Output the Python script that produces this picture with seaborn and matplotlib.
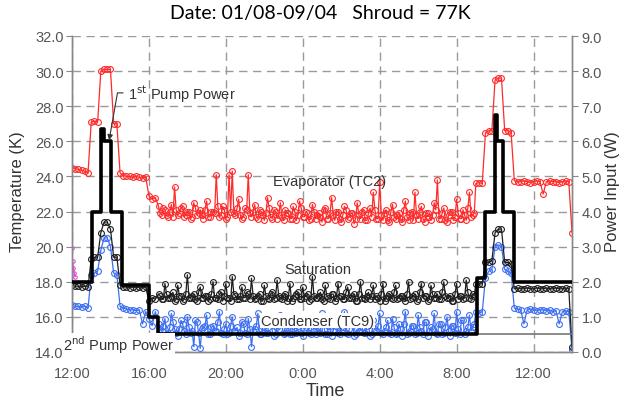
import numpy as np
import pandas as pd
import matplotlib
matplotlib.use("Agg")
import matplotlib.pyplot as plt
import seaborn as sns

# ---------------- data ----------------
# Three sampling segments (hours since midnight of day 1):
#   day 1: 12:00-16:20 every 10 min, night: 16:30-8:55 every 5 min, day 2: 9:00-14:00 every 10 min
day1_start_h, day1_n = 12.0, 27
night_start_h, night_n = 16.5, 198
day2_start_h, day2_n = 33.0, 31

evap_day1 = [24.5, 24.45, 24.4, 24.35, 24.3, 24.2,
             27.1, 27.15, 27.1,
             30.0, 30.1, 30.1, 30.1,
             27.0, 27.0,
             24.2, 24.05, 24.0, 24.0, 23.95, 24.0, 23.95, 23.9, 23.95,
             22.9, 22.7, 22.8]
evap_night_a = [22.3, 21.8, 22.1, 21.7, 22.4, 23.4, 21.8, 22.2, 21.7, 22.0,
                21.6, 22.5, 21.8, 22.1, 21.6, 22.6, 21.7, 22.0, 24.1, 21.7,
                22.3, 21.6, 24.1, 24.3, 21.8, 22.7, 21.6, 22.2, 24.1, 21.7,
                22.4, 21.6, 22.0, 21.5, 22.8, 21.7, 22.1, 21.6, 22.5, 21.5,
                21.9, 21.6, 22.3, 21.5, 22.6, 21.7, 22.0, 21.5, 22.4, 21.6,
                21.9, 21.4, 22.2, 21.6, 22.8, 21.5, 22.0, 21.4, 22.3, 21.6,
                21.9, 21.3, 22.5, 21.6, 22.1, 21.5, 22.2, 23.1, 21.6, 23.7,
                21.5, 22.1, 21.4, 22.4, 21.6, 21.9, 21.4, 22.6, 21.5, 22.0,
                23.1, 21.6, 22.3, 21.4, 21.9, 21.5, 22.5, 23.8, 21.6, 22.2,
                21.4, 22.0, 21.5, 22.7, 21.6, 22.1, 21.5, 23.1, 21.8]
evap_night_b = [21.9, 22.2, 21.8, 22.0, 21.7, 22.1, 21.9, 22.3, 21.8, 22.0,
                21.7, 22.2, 21.9, 21.8, 22.1, 21.7, 22.0, 21.9, 22.3, 21.8,
                22.1, 21.7, 22.0, 21.9, 22.2, 21.8, 21.7, 22.1, 21.9, 22.0,
                21.7, 22.1, 21.8, 21.9, 22.2, 21.6, 22.0, 21.8, 21.7, 22.1,
                21.9, 21.6, 22.0, 21.8, 22.2, 21.7, 21.9, 21.6, 22.0, 21.8,
                21.7, 22.1, 21.6, 21.9, 21.8, 22.0, 21.6, 21.8, 22.1, 21.7,
                21.9, 21.6, 21.8, 22.0, 21.5, 21.9, 21.7, 22.1, 21.6, 21.8,
                21.9, 21.5, 22.0, 21.7, 21.8, 21.6, 22.1, 21.7, 21.9, 21.5,
                21.8, 22.0, 21.6, 21.9, 21.7, 21.8, 22.1, 21.6, 21.9, 21.5,
                21.8, 22.0, 21.7, 21.9, 21.6, 21.8, 22.2, 21.7, 21.9]
evap_day2 = [23.6, 23.65, 23.6,
             26.5, 26.6, 26.6,
             29.5, 29.6, 29.6,
             26.6, 26.6, 26.5,
             23.75, 23.7, 23.7, 23.75, 23.7, 23.65, 23.7, 23.75, 23.7,
             23.0, 23.7, 23.75, 23.7, 23.7, 23.65, 23.7, 23.75, 23.7,
             20.8]

cond_day1 = [16.65, 16.6, 16.6, 16.55, 16.6, 16.5,
             18.4, 18.5, 18.6,
             19.8, 20.5, 20.5, 20.0,
             18.5, 18.4,
             16.6, 16.5, 16.45, 16.4, 16.4, 16.35, 16.4, 15.6, 16.3,
             15.9, 15.5, 16.3]
cond_night_a = [15.6, 15.2, 15.9, 15.1, 16.2, 15.3, 14.9, 15.8, 15.2, 16.0,
                15.1, 14.3, 15.7, 14.2, 15.4, 16.1, 15.0, 15.5, 15.2, 16.3,
                15.0, 15.6, 15.1, 16.0, 15.2, 14.9, 15.7, 15.1, 15.9, 14.3,
                15.3, 16.2, 15.0, 15.5, 15.1, 15.8, 14.9, 15.4, 16.1, 15.0,
                15.3, 15.0, 15.7, 15.1, 16.0, 14.9, 15.4, 15.1, 15.8, 15.0,
                15.3, 16.2, 15.0, 15.5, 14.9, 15.7, 15.1, 15.4, 16.3, 15.0,
                15.6, 14.9, 15.3, 16.0, 15.1, 15.5, 14.9, 15.8, 15.2, 16.2,
                15.0, 15.4, 15.1, 15.9, 15.0, 15.6, 14.9, 16.3, 15.1, 15.5,
                15.0, 16.1, 15.2, 15.7, 14.9, 15.4, 16.2, 15.0, 15.6, 15.1,
                16.0, 14.9, 15.5, 16.3, 15.0, 15.8, 15.2, 16.1, 15.4]
cond_night_b = [15.3, 15.5, 15.0, 15.4, 15.7, 15.1, 15.3, 15.6, 15.0, 15.4,
                15.2, 15.8, 15.1, 15.3, 15.5, 15.0, 15.4, 15.2, 15.7, 15.1,
                15.3, 15.0, 15.5, 15.2, 15.4, 15.1, 15.6, 15.0, 15.3, 15.2,
                15.5, 15.0, 15.4, 15.1, 15.7, 15.2, 15.0, 15.3, 15.6, 15.1,
                15.4, 15.0, 15.2, 15.5, 15.1, 15.3, 15.8, 15.0, 15.2, 15.4,
                15.1, 15.6, 15.0, 15.3, 15.2, 15.5, 15.0, 15.4, 15.1, 15.3,
                15.7, 15.0, 15.2, 15.4, 15.1, 15.6, 15.0, 15.3, 15.5, 15.1,
                15.2, 15.8, 15.0, 15.4, 15.1, 15.3, 15.6, 15.0, 15.2, 15.5,
                15.1, 15.4, 15.0, 15.7, 15.2, 15.3, 15.1, 15.6, 15.0, 15.4,
                15.2, 15.5, 15.1, 15.3, 15.8, 15.0, 15.4, 15.2, 15.6]
cond_day2 = [16.3, 16.2, 16.3,
             18.2, 18.6, 18.7,
             20.0, 20.1, 20.0,
             18.7, 18.6, 18.5,
             16.5, 16.45, 16.4, 15.6, 16.4, 16.45, 16.4, 16.35, 16.4,
             16.4, 16.35, 16.4, 16.3, 16.35, 15.6, 16.3, 16.35, 16.3,
             14.1]

sat_day1 = [17.8, 17.75, 17.75, 17.7, 17.75, 17.7,
            19.3, 19.4, 19.4,
            20.8, 21.4, 21.4, 21.0,
            19.4, 19.4,
            17.8, 17.7, 17.7, 17.65, 17.7, 17.65, 17.7, 17.65, 17.7,
            16.9, 17.1, 17.0]
sat_night_a = [17.3, 17.0, 17.9, 17.1, 17.2, 16.9, 17.8, 17.2, 17.0, 18.4,
               17.1, 17.3, 16.9, 17.7, 17.1, 17.2, 17.0, 18.0, 17.1, 17.3,
               16.9, 17.9, 17.1, 18.3, 17.2, 17.0, 17.7, 17.1, 17.3, 18.2,
               17.0, 17.2, 16.9, 17.8, 17.1, 17.3, 17.0, 18.1, 17.1, 17.2,
               16.9, 17.9, 17.1, 17.3, 17.0, 17.7, 17.2, 16.9, 18.3, 17.1,
               17.2, 17.0, 17.8, 17.1, 17.3, 16.9, 17.9, 17.2, 17.0, 17.7,
               17.1, 17.3, 16.9, 18.0, 17.1, 17.2, 17.0, 17.8, 17.2, 16.9,
               17.9, 17.1, 17.3, 17.0, 17.8, 17.1, 17.2, 16.9, 18.0, 17.1,
               17.3, 17.0, 17.9, 17.2, 16.9, 17.8, 17.1, 17.3, 17.0, 18.0,
               17.1, 17.2, 16.9, 17.9, 17.2, 17.0, 18.1, 17.1, 17.3]
sat_night_b = [17.2, 17.0, 17.3, 17.1, 17.4, 17.0, 17.2, 16.9, 17.3, 17.1,
               17.2, 17.0, 17.4, 17.1, 17.2, 16.9, 17.3, 17.1, 17.0, 17.4,
               17.2, 17.1, 16.9, 17.3, 17.0, 17.2, 17.1, 17.4, 17.0, 17.2,
               17.1, 17.3, 16.9, 17.2, 17.0, 17.4, 17.1, 17.2, 17.0, 17.3,
               17.1, 16.9, 17.2, 17.4, 17.0, 17.1, 17.3, 17.0, 17.2, 17.1,
               17.4, 16.9, 17.2, 17.0, 17.3, 17.1, 17.2, 17.0, 17.4, 17.1,
               17.2, 16.9, 17.3, 17.1, 17.0, 17.4, 17.2, 17.0, 17.1, 17.3,
               16.9, 17.2, 17.1, 17.4, 17.0, 17.2, 17.1, 17.3, 17.0, 17.2,
               16.9, 17.4, 17.1, 17.2, 17.0, 17.3, 17.1, 17.0, 17.4, 17.2,
               17.1, 16.9, 17.3, 17.0, 17.2, 17.1, 17.4, 17.0, 17.2]
sat_day2 = [17.9, 17.85, 17.9,
            19.1, 19.1, 19.2,
            20.8, 21.0, 21.0,
            19.1, 19.1, 19.0,
            17.6, 17.65, 17.6, 17.6, 17.65, 17.6, 17.6, 17.65, 17.6,
            17.6, 17.65, 17.6, 17.6, 17.65, 17.6, 17.6, 17.65, 17.6,
            14.3]

heater_time_h = [12.0, 12.03, 12.07, 12.12, 12.17]
heater_temp = [19.9, 19.2, 18.8, 18.5, 18.3]

pump1_time_h = [12.0, 13.04, 13.52, 13.64, 14.03, 14.6, 16.0, 16.45,
                33.07, 33.5, 34.0, 34.12, 34.42, 34.98, 38.0]
pump1_power_w = [2.0, 4.0, 6.35, 6.0, 4.0, 1.9, 1.0, 0.5,
                 2.1, 4.0, 6.75, 6.0, 4.0, 2.0, 2.0]

pump2_time_h = [12.0, 16.45, 38.0]
pump2_power_w = [0.0, 0.5, 0.5]

xtick_hours = [12, 16, 20, 24, 28, 32, 36]
xtick_labels = ["12:00", "16:00", "20:00", "0:00", "4:00", "8:00", "12:00"]
temp_ticks = [14, 16, 18, 20, 22, 24, 26, 28, 30, 32]
power_ticks = [0, 1, 2, 3, 4, 5, 6, 7, 8, 9]

# ---------------- assemble ----------------
sns.set_theme(style="white")
plt.rcParams["font.family"] = ["Liberation Sans", "DejaVu Sans"]

time_h = np.concatenate([
    day1_start_h + np.arange(day1_n) / 6.0,
    night_start_h + np.arange(night_n) / 12.0,
    day2_start_h + np.arange(day2_n) / 6.0,
])


def assemble(day1, night_a, night_b, day2):
    night = np.column_stack([night_a, night_b]).ravel()
    return np.concatenate([day1, night, day2])


series = {
    "Evaporator (TC2)": assemble(evap_day1, evap_night_a, evap_night_b, evap_day2),
    "Condenser (TC9)": assemble(cond_day1, cond_night_a, cond_night_b, cond_day2),
    "Saturation": assemble(sat_day1, sat_night_a, sat_night_b, sat_day2),
}
df = pd.concat([pd.DataFrame({"time": time_h, "temp": v, "series": k}) for k, v in series.items()],
               ignore_index=True)
df_pow1 = pd.DataFrame({"time": pump1_time_h, "power": pump1_power_w})
df_pow2 = pd.DataFrame({"time": pump2_time_h, "power": pump2_power_w})
df_heat = pd.DataFrame({"time": heater_time_h, "temp": heater_temp})

# ---------------- figure ----------------
fig = plt.figure(figsize=(6.23, 4.02), dpi=100)
ax = fig.add_axes([72 / 623, 1 - 353 / 402, 500 / 623, 316 / 402])
ax2 = ax.twinx()

colors = {"Evaporator (TC2)": "#ff2a2a", "Condenser (TC9)": "#3d6ff2", "Saturation": "#1e1e1e"}
for name in ["Evaporator (TC2)", "Condenser (TC9)", "Saturation"]:
    sub = df[df["series"] == name]
    sns.lineplot(data=sub, x="time", y="temp", ax=ax, color=colors[name],
                 linewidth=0.9, marker="o", markersize=4.2,
                 markerfacecolor="none", markeredgecolor=colors[name],
                 markeredgewidth=0.8, sort=False, estimator=None, zorder=3)

sns.lineplot(data=df_heat, x="time", y="temp", ax=ax, color="#e040e0",
             linewidth=0.8, marker="o", markersize=2.5, markerfacecolor="none",
             markeredgecolor="#e040e0", sort=False, estimator=None, zorder=3)

sns.lineplot(data=df_pow2, x="time", y="power", ax=ax2, color="#777777",
             linewidth=1.2, drawstyle="steps-post", sort=False, estimator=None, zorder=4)
sns.lineplot(data=df_pow1, x="time", y="power", ax=ax2, color="black",
             linewidth=2.6, drawstyle="steps-post", sort=False, estimator=None, zorder=5)

ax.set_xlim(12, 38)
ax.set_ylim(14, 32)
ax2.set_ylim(0, 9)
ax.set_xticks(xtick_hours)
ax.set_xticklabels(xtick_labels)
ax.set_yticks(temp_ticks)
ax.set_yticklabels([f"{v:.1f}" for v in temp_ticks])
ax2.set_yticks(power_ticks)
ax2.set_yticklabels([f"{v:.1f}" for v in power_ticks])
for a in (ax, ax2):
    a.set_xlabel("")
    a.set_ylabel("")

for a in (ax, ax2):
    a.tick_params(axis="both", which="major", direction="out", length=4, width=0.8,
                  color="#888888", labelcolor="#555555", labelsize=10.5)
    a.spines["top"].set_visible(False)
    for s in ("left", "right", "bottom"):
        a.spines[s].set_color("#888888")
        a.spines[s].set_linewidth(1.0)
ax.tick_params(axis="x", pad=6)
ax.tick_params(axis="y", pad=2)
ax2.tick_params(axis="y", pad=3)

ax.grid(True, which="major", axis="both", color="#9a9a9a", linestyle=(0, (6, 4)), linewidth=1.0)
ax.set_axisbelow(True)

fig.text(18 / 623, 1 - 192 / 402, "Temperature (K)", rotation=90, ha="center", va="center",
         fontsize=12, color="#333333")
fig.text(613 / 623, 1 - 192 / 402, "Power Input (W)", rotation=90, ha="center", va="center",
         fontsize=12, color="#333333")
fig.text(325 / 623, 1 - 392 / 402, "Time", ha="center", va="center", fontsize=13, color="#333333")
fig.text(320 / 623, 1 - 14 / 402, "Date: 01/08-09/04   Shroud = 77K", ha="center", va="center",
         fontsize=14, color="black", family=["Lato", "DejaVu Sans"])

txt_kw = dict(fontsize=10.5, color="#333333", zorder=10)
ax2.annotate(r"1$^{\mathrm{st}}$ Pump Power", xy=(13.93, 6.03), xycoords="data",
             xytext=(14.9, 7.38), textcoords="data", ha="left", va="center",
             arrowprops=dict(arrowstyle="-|>", color="#333333", lw=0.8, mutation_scale=8,
                             shrinkA=1, shrinkB=0,
                             connectionstyle="angle,angleA=180,angleB=80,rad=0"),
             **txt_kw)
ax.text(25.4, 23.75, "Evaporator (TC2)", ha="center", va="center", **txt_kw)
ax.text(24.8, 18.72, "Saturation", ha="center", va="center", **txt_kw)
ax.text(24.78, 15.78, "Condenser (TC9)", ha="center", va="center",
        bbox=dict(facecolor="white", edgecolor="none", pad=0.5), **txt_kw)
ax2.text(11.55, 0.22, r"2$^{\mathrm{nd}}$ Pump Power", ha="left", va="center", clip_on=False,
         bbox=dict(facecolor="white", edgecolor="none", pad=0.3), **txt_kw)

fig.savefig("out.png", dpi=100)
